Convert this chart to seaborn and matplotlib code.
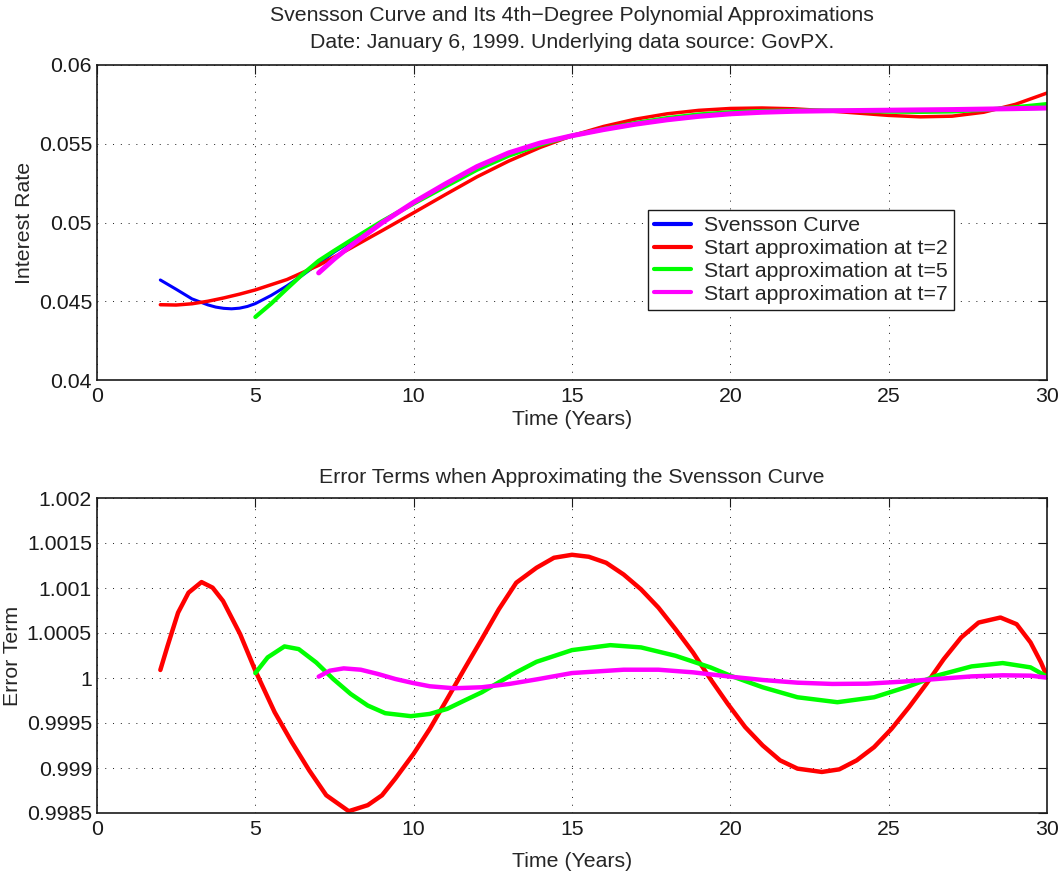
import numpy as np
import pandas as pd
import matplotlib
matplotlib.use('Agg')
import matplotlib.pyplot as plt
from matplotlib.ticker import FuncFormatter
import seaborn as sns

# Top panel: interest rates
t_sv = [2, 2.5, 3, 3.5, 3.75, 4, 4.25, 4.5, 4.75, 5, 5.5, 6, 6.5, 7, 7.5, 8, 9,
        10, 11, 12, 13, 14, 15, 16, 17, 18, 19, 20, 21, 22, 23, 24, 25, 26, 27,
        28, 29, 30]
r_sv = [0.04635, 0.04576, 0.04515, 0.04477, 0.04463, 0.04455, 0.04452, 0.04456,
        0.04467, 0.04485, 0.04537, 0.04598, 0.04667, 0.04740, 0.04813, 0.04876,
        0.05003, 0.05126, 0.05243, 0.05352, 0.05440, 0.05503, 0.05550, 0.05589,
        0.05623, 0.05651, 0.05673, 0.05689, 0.05699, 0.05705, 0.05709, 0.05711,
        0.05713, 0.05715, 0.05717, 0.05719, 0.05721, 0.05724]

t_a2 = [2, 2.5, 3, 3.5, 4, 4.5, 5, 6, 7, 8, 9, 10, 11, 12, 13, 14, 15, 16, 17,
        18, 19, 20, 21, 22, 23, 24, 25, 26, 27, 28, 29, 30]
r_a2 = [0.04478, 0.04476, 0.04484, 0.04500, 0.04521, 0.04545, 0.04572, 0.04638,
        0.04728, 0.04836, 0.04948, 0.05062, 0.05177, 0.05290, 0.05390, 0.05477,
        0.05551, 0.05610, 0.05656, 0.05690, 0.05712, 0.05724, 0.05727, 0.05722,
        0.05710, 0.05695, 0.05680, 0.05671, 0.05675, 0.05700, 0.05750, 0.05822]

t_a5 = [5, 5.5, 6, 6.5, 7, 7.5, 8, 9, 10, 11, 12, 13, 14, 15, 16, 17, 18, 19, 20,
        21, 22, 23, 24, 25, 26, 27, 28, 29, 30]
r_a5 = [0.04400, 0.04485, 0.04580, 0.04673, 0.04757, 0.04822, 0.04885, 0.05008,
        0.05120, 0.05228, 0.05335, 0.05424, 0.05494, 0.05551, 0.05594, 0.05632,
        0.05663, 0.05686, 0.05700, 0.05708, 0.05711, 0.05711, 0.05708, 0.05704,
        0.05702, 0.05705, 0.05715, 0.05732, 0.05752]

t_a7 = [7, 7.5, 8, 9, 10, 11, 12, 13, 14, 15, 16, 17, 18, 19, 20, 21, 22, 23,
        24, 25, 26, 27, 28, 29, 30]
r_a7 = [0.04680, 0.04770, 0.04850, 0.04998, 0.05128, 0.05245, 0.05355, 0.05442,
        0.05505, 0.05551, 0.05590, 0.05624, 0.05652, 0.05674, 0.05690, 0.05700,
        0.05706, 0.05709, 0.05711, 0.05713, 0.05715, 0.05717, 0.05720, 0.05723,
        0.05727]

# Bottom panel: error terms
te2 = [2.0, 2.23, 2.56, 2.89, 3.30, 3.65, 3.98, 4.52, 5.0, 5.61, 6.15, 6.70, 7.24,
       7.95, 8.55, 9.0, 9.42, 10.0, 10.51, 11.06, 11.60, 12.15, 12.69, 13.24,
       13.88, 14.43, 15.0, 15.53, 16.08, 16.63, 17.18, 17.73, 18.27, 18.82,
       19.37, 19.92, 20.47, 21.02, 21.57, 22.12, 22.89, 23.44, 23.99, 24.54,
       25.09, 25.64, 26.19, 26.74, 27.29, 27.84, 28.53, 29.04, 29.48, 29.81, 30.0]
e2 = [1.000089, 1.000358, 1.000726, 1.000948, 1.001066, 1.001004, 1.000856,
      1.000487, 1.000081, 0.999620, 0.999288, 0.998974, 0.998697, 0.998520,
      0.998587, 0.998697, 0.998882, 0.999159, 0.999435, 0.999768, 1.000100,
      1.000432, 1.000764, 1.001059, 1.001225, 1.001336, 1.001369, 1.001347,
      1.001280, 1.001150, 1.000985, 1.000782, 1.000542, 1.000284, 0.999989,
      0.999712, 0.999454, 0.999251, 0.999085, 0.998993, 0.998956, 0.998985,
      0.999085, 0.999232, 0.999435, 0.999675, 0.999934, 1.000210, 1.000450,
      1.000616, 1.000672, 1.000598, 1.000395, 1.000173, 1.000018]

te5 = [5.0, 5.39, 5.92, 6.37, 6.92, 7.46, 8.01, 8.55, 9.10, 9.91, 10.51, 11.06,
       11.60, 12.15, 12.69, 13.24, 13.88, 15.0, 16.21, 17.18, 18.27, 19.37, 20.0,
       21.02, 22.12, 23.38, 24.54, 25.64, 26.52, 27.62, 28.60, 29.48, 30.0]
e5 = [1.000055, 1.000229, 1.000351, 1.000321, 1.000173, 0.999989, 0.999823,
      0.999694, 0.999609, 0.999576, 0.999601, 0.999657, 0.999749, 0.999841,
      0.999952, 1.000063, 1.000180, 1.000310, 1.000365, 1.000340, 1.000247,
      1.000118, 1.000026, 0.999897, 0.999786, 0.999731, 0.999786, 0.999908,
      1.000026, 1.000129, 1.000166, 1.000118, 1.000015]

te7 = [7.0, 7.35, 7.79, 8.33, 8.88, 9.42, 9.97, 10.51, 11.27, 12.15, 13.02, 13.89,
       15.0, 16.63, 17.73, 18.82, 20.0, 21.02, 22.12, 23.22, 24.32, 25.42, 26.52,
       27.62, 28.60, 29.48, 30.0]
e7 = [1.000015, 1.000081, 1.000107, 1.000092, 1.000044, 0.999989, 0.999945,
      0.999908, 0.999886, 0.999897, 0.999934, 0.999985, 1.000055, 1.000092,
      1.000092, 1.000063, 1.000015, 0.999978, 0.999948, 0.999934, 0.999937,
      0.999959, 0.999989, 1.000018, 1.000030, 1.000026, 1.000004]

labels = ['Svensson Curve', 'Start approximation at t=2',
          'Start approximation at t=5', 'Start approximation at t=7']
colors = ['#0000ff', '#ff0000', '#00ff00', '#ff00ff']

FS = 15.3

sns.set_theme(style='white')
plt.rcParams['font.family'] = ['Liberation Sans', 'DejaVu Sans']
plt.rcParams['font.size'] = FS


def fmt(v, pos):
    return ('%.4f' % v).rstrip('0').rstrip('.')


def style_axes(ax):
    ax.grid(True, linestyle=(0, (1, 7)), color='k', linewidth=0.7)
    ax.set_axisbelow(True)
    ax.tick_params(direction='in', length=6.5, width=0.8, top=True, right=True,
                   labelsize=FS, colors='k')
    ax.tick_params(axis='x', pad=5)
    ax.tick_params(axis='y', pad=3.6)
    for s in ax.spines.values():
        s.set_color('k')
        s.set_linewidth(1.2)
    ax.set_xlim(0, 30)
    ax.set_xticks(range(0, 31, 5))
    ax.yaxis.set_major_formatter(FuncFormatter(fmt))


fig = plt.figure(figsize=(10.64, 8.73), dpi=100)
ax1 = fig.add_axes([97 / 1064, 1 - 380 / 873, 950 / 1064, 315 / 873])
ax2 = fig.add_axes([97 / 1064, 1 - 813 / 873, 950 / 1064, 315 / 873])

# top panel
top = [(t_sv, r_sv, 2.2), (t_a2, r_a2, 2.5), (t_a5, r_a5, 3.0), (t_a7, r_a7, 3.6)]
for (tx, ry, lw), lab, c in zip(top, labels, colors):
    sns.lineplot(x=tx, y=ry, ax=ax1, color=c, linewidth=lw, label=lab,
                 sort=False, estimator=None)
style_axes(ax1)
ax1.set_ylim(0.04, 0.06)
ax1.set_yticks([0.04, 0.045, 0.05, 0.055, 0.06])
ax1.set_xlabel('Time (Years)', fontsize=FS, labelpad=3)
ax1.set_ylabel('Interest Rate', fontsize=FS, labelpad=3.5)
ax1.set_title('Svensson Curve and Its 4th\u2212Degree Polynomial Approximations\n'
              'Date: January 6, 1999. Underlying data source: GovPX.',
              fontsize=FS, pad=12, linespacing=1.55)
leg = ax1.legend(loc='upper left', bbox_to_anchor=(0.58, 0.54), fontsize=FS,
                 frameon=True, fancybox=False, framealpha=1, edgecolor='k',
                 handlelength=1.7, labelspacing=0.18, borderpad=0.3,
                 handletextpad=0.65, borderaxespad=0)
leg.get_frame().set_linewidth(1.0)
for h in leg.get_lines():
    h.set_linewidth(3.0)

# bottom panel
bottom = [(te2, e2, colors[1]), (te5, e5, colors[2]), (te7, e7, colors[3])]
for tx, ey, c in bottom:
    sns.lineplot(x=tx, y=ey, ax=ax2, color=c, linewidth=3.2, sort=False,
                 estimator=None)
style_axes(ax2)
ax2.set_ylim(0.9985, 1.002)
ax2.set_yticks([0.9985, 0.999, 0.9995, 1.0, 1.0005, 1.001, 1.0015, 1.002])
ax2.set_xlabel('Time (Years)', fontsize=FS, labelpad=9.5)
ax2.set_ylabel('Error Term', fontsize=FS, labelpad=3.5)
ax2.set_title('Error Terms when Approximating the Svensson Curve', fontsize=FS,
              pad=11)

fig.savefig('out.png', dpi=100, facecolor='white')
